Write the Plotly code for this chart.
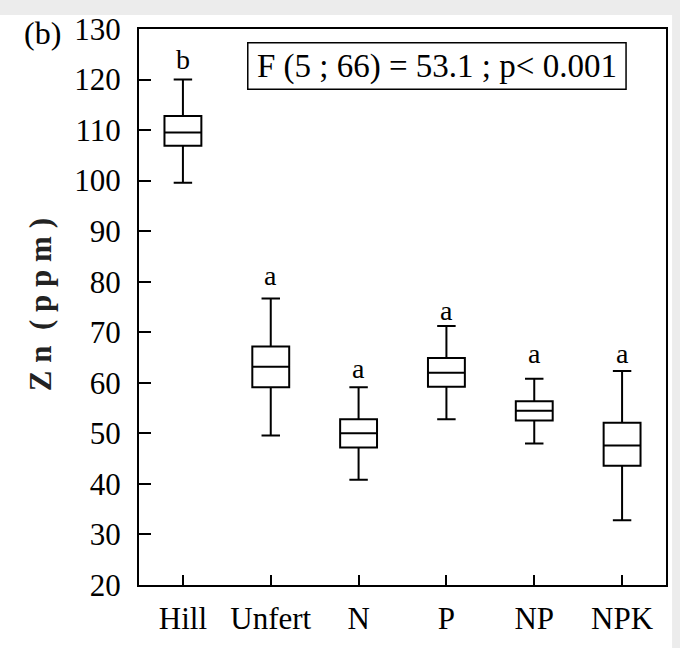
import plotly.graph_objects as go

categories = ["Hill", "Unfert", "N", "P", "NP", "NPK"]
lower_whisker = [99.6, 49.6, 40.8, 52.8, 48.0, 32.8]
q1_vals = [106.9, 59.1, 47.2, 59.2, 52.55, 43.6]
median_vals = [109.5, 63.2, 50.0, 62.0, 54.45, 47.6]
q3_vals = [112.8, 67.2, 52.8, 64.9, 56.35, 52.1]
upper_whisker = [120.0, 76.7, 59.1, 71.25, 60.8, 62.35]
group_letters = ["b", "a", "a", "a", "a", "a"]
letter_y = [124.0, 81.2, 62.8, 74.3, 65.9, 65.9]
y_ticks = list(range(20, 140, 10))
stat_text = "F (5 ; 66) = 53.1 ; p< 0.001"

SERIF = "Liberation Serif, Times New Roman, serif"

fig = go.Figure()
fig.add_trace(go.Box(
    x=categories,
    q1=q1_vals, median=median_vals, q3=q3_vals,
    lowerfence=lower_whisker, upperfence=upper_whisker,
    width=0.42, whiskerwidth=0.5,
    fillcolor="white",
    line=dict(color="black", width=2),
    boxpoints=False,
    showlegend=False,
))

for c, t, yv in zip(categories, group_letters, letter_y):
    fig.add_annotation(x=c, y=yv, text=t, showarrow=False,
                       font=dict(family=SERIF, size=28, color="black"),
                       xanchor="center", yanchor="middle")

# statistics box
fig.add_shape(type="rect", xref="paper", yref="paper",
              x0=0.2064, x1=0.9242, y0=0.8915, y1=0.9751,
              fillcolor="white", line=dict(color="black", width=1.5))
fig.add_annotation(xref="paper", yref="paper", x=0.5653, y=0.9333,
                   text=stat_text, showarrow=False,
                   font=dict(family=SERIF, size=33, color="black"),
                   xanchor="center", yanchor="middle")

fig.add_annotation(xref="paper", yref="paper", x=-0.188, y=0.505,
                   text="<b>Z n  ( p p m )</b>",
                   textangle=-90, showarrow=False,
                   font=dict(family=SERIF, size=31, color="#222"),
                   xanchor="center", yanchor="middle")

fig.add_annotation(xref="paper", yref="paper", x=-0.184, y=0.993,
                   text="(b)", showarrow=False,
                   font=dict(family=SERIF, size=32, color="black"),
                   xanchor="center", yanchor="middle")

# page background bands
fig.add_shape(type="rect", xref="paper", yref="paper",
              x0=-0.3, x1=1.03, y0=1.025, y1=1.06,
              fillcolor="#ececec", line=dict(width=0), layer="below")
fig.add_shape(type="rect", xref="paper", yref="paper",
              x0=1.0115, x1=1.03, y0=-0.12, y1=1.06,
              fillcolor="#ececec", line=dict(width=0), layer="below")

fig.update_layout(
    width=680, height=648,
    margin=dict(l=139, r=13, t=28, b=58),
    paper_bgcolor="white", plot_bgcolor="white",
    xaxis=dict(
        type="category", range=[-0.5, 5.5],
        showline=True, linecolor="black", linewidth=2, mirror=True,
        ticks="inside", ticklen=10, tickwidth=1.5, tickcolor="black",
        showgrid=False, zeroline=False,
        tickfont=dict(family=SERIF, size=31, color="black"),
        ticklabelstandoff=5,
    ),
    yaxis=dict(
        range=[20, 130], tickvals=y_ticks,
        showline=True, linecolor="black", linewidth=2, mirror=True,
        ticks="inside", ticklen=12, tickwidth=1.5, tickcolor="black",
        showgrid=False, zeroline=False,
        tickfont=dict(family=SERIF, size=31, color="black"),
        ticklabelstandoff=10,
    ),
)

fig.write_html("out.html")
